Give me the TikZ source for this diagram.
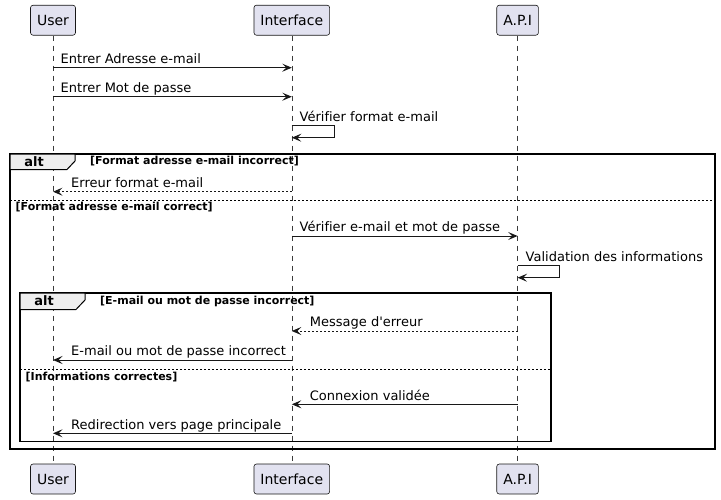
\documentclass[tikz,border=0pt]{standalone}
\usepackage{fontspec}
\setmainfont{DejaVu Sans}[Ligatures={NoCommon,TeXOff}]
\usetikzlibrary{arrows.meta}
\definecolor{partfill}{HTML}{E2E2F0}
\definecolor{partline}{HTML}{181818}
\definecolor{tabfill}{HTML}{EEEEEE}
\begin{document}
\begin{tikzpicture}[x=1pt,y=-1pt,
 part/.style={draw=partline, fill=partfill, rounded corners=2.5pt, line width=0.6pt, minimum height=30pt, inner xsep=6.5pt, font=\fontsize{14}{16}\selectfont},
 life/.style={draw=partline!85, line width=0.5pt, dash pattern=on 5pt off 5pt},
 msg/.style={draw=partline, line width=1pt, -{Stealth[length=9.5pt,width=8pt,inset=4pt]}},
 ret/.style={msg, dash pattern=on 2pt off 2pt},
 lbl/.style={anchor=base west, inner sep=0pt, font=\fontsize{13}{15}\selectfont},
 frm/.style={draw=black, line width=1.5pt},
 tabbox/.style={draw=black, line width=1pt, fill=tabfill},
 cond/.style={anchor=base west, inner sep=0pt, font=\bfseries\fontsize{11}{13}\selectfont},
 altl/.style={anchor=base, inner sep=0pt, font=\bfseries\fontsize{13}{15}\selectfont},
 divline/.style={draw=black, line width=0.8pt, dash pattern=on 2pt off 2pt}]
\useasboundingbox (0,0) rectangle (721,499);
% participants
\node[part] (u1) at (53,20.2) {User};
\node[part] (i1) at (291.8,20.2) {Interface};
\node[part] (a1) at (517.6,20.2) {A.P.I};
\node[part] (u2) at (53,479) {User};
\node[part] (i2) at (291.8,479) {Interface};
\node[part] (a2) at (517.6,479) {A.P.I};
% lifelines
\draw[life] (u1.south) -- (u2.north);
\draw[life] (i1.south) -- (i2.north);
\draw[life] (a1.south) -- (a2.north);
% outer frame
\draw[frm] (10,154) rectangle (715,449);
\draw[tabbox] (10,154) -- (75,154) -- (75,161) -- (67,169.5) -- (10,169.5) -- cycle;
\node[altl] (alt1) at (34,166) {alt};
\node[cond] (c1) at (90,164.5) {[Format adresse e-mail incorrect]};
\draw[divline] (10,200.3) -- (715,200.3);
\node[cond] (c2) at (15.5,210.5) {[Format adresse e-mail correct]};
% inner frame
\draw[frm] (20,293) rectangle (551,441.7);
\draw[tabbox] (20,293) -- (85,293) -- (85,300) -- (76,309.5) -- (20,309.5) -- cycle;
\node[altl] (alt2) at (44,305.5) {alt};
\node[cond] (c3) at (100,304) {[E-mail ou mot de passe incorrect]};
\draw[divline] (20,369.3) -- (551,369.3);
\node[cond] (c4) at (25.5,380) {[Informations correctes]};
% messages
\draw[msg] (u1 |- 0,67.7) -- (i1 |- 0,67.7);
\node[lbl] (t1) at (60.5,63) {Entrer Adresse e-mail};
\draw[msg] (u1 |- 0,96.7) -- (i1 |- 0,96.7);
\node[lbl] (t2) at (60.5,92) {Entrer Mot de passe};
\draw[msg] (i1 |- 0,125.7) -- ++(42.3,0) -- ++(0,12) -- (i1 |- 0,137.7);
\node[lbl] (t3) at (299.5,121) {Vérifier format e-mail};
\draw[ret] (i1 |- 0,191.7) -- (u1 |- 0,191.7);
\node[lbl] (t4) at (71,187) {Erreur format e-mail};
\draw[msg] (i1 |- 0,236) -- (a1 |- 0,236);
\node[lbl] (t5) at (299.5,231.5) {Vérifier e-mail et mot de passe};
\draw[msg] (a1 |- 0,265.7) -- ++(41.8,0) -- ++(0,12) -- (a1 |- 0,277.7);
\node[lbl] (t6) at (525.5,261) {Validation des informations};
\draw[ret] (a1 |- 0,331) -- (i1 |- 0,331);
\node[lbl] (t7) at (309.7,326.5) {Message d'erreur};
\draw[msg] (i1 |- 0,360) -- (u1 |- 0,360);
\node[lbl] (t8) at (71,355.5) {E-mail ou mot de passe incorrect};
\draw[msg] (a1 |- 0,404.3) -- (i1 |- 0,404.3);
\node[lbl] (t9) at (309.7,400) {Connexion validée};
\draw[msg] (i1 |- 0,433.3) -- (u1 |- 0,433.3);
\node[lbl] (t10) at (71,429) {Redirection vers page principale};
\end{tikzpicture}
\end{document}
